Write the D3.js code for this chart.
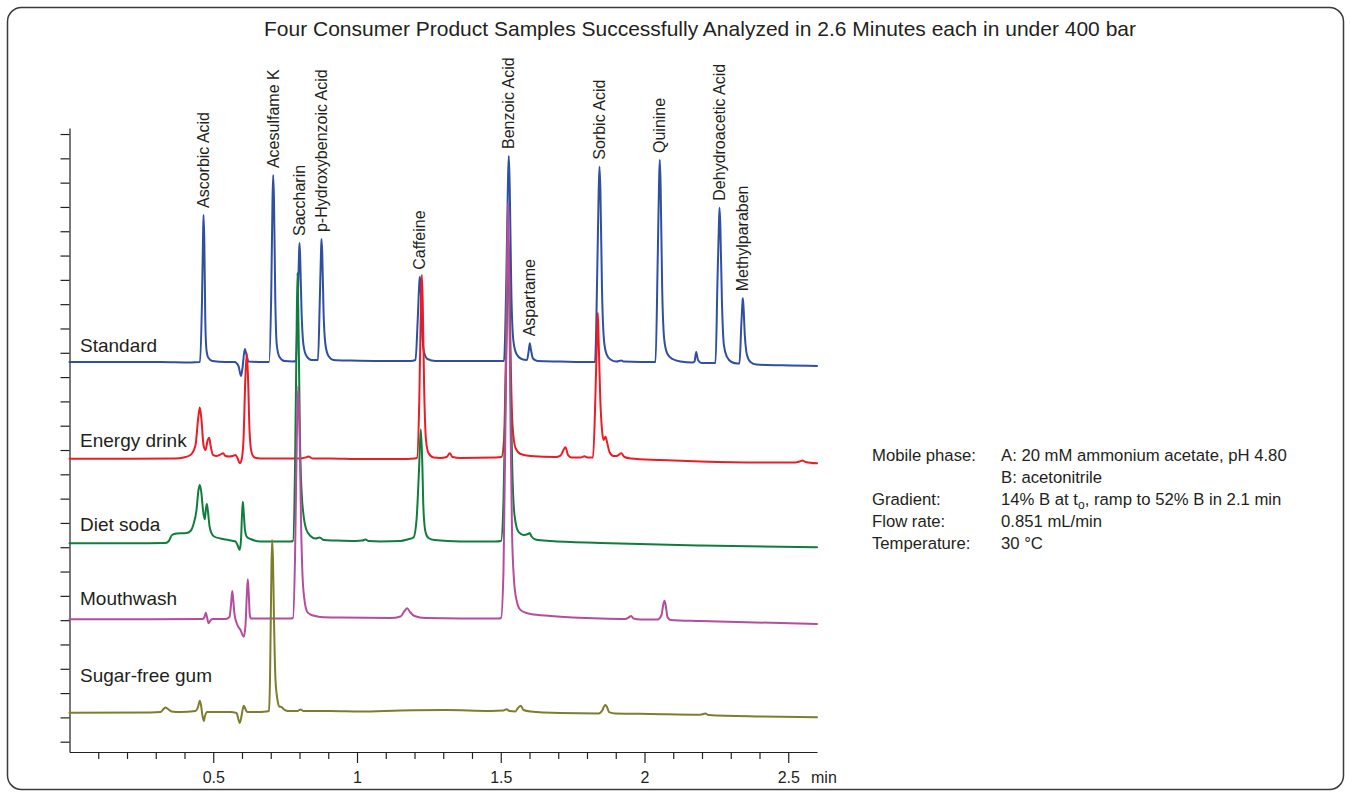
<!DOCTYPE html>
<html>
<head>
<meta charset="utf-8">
<title>Four Consumer Product Samples</title>
<script src="https://cdn.jsdelivr.net/npm/d3@7"></script>
<style>
  body { margin: 0; background: #fff; }
  svg { font-family: "Liberation Sans", Arial, sans-serif; }
  svg text { fill: #231f20; }
  .axis path, .axis line { stroke: #231f20; stroke-width: 1.2; fill: none; }
  .trace { fill: none; stroke-width: 2; stroke-linejoin: round; stroke-linecap: round; }
</style>
</head>
<body>
<svg width="1351" height="796"></svg>
<script>
// ---- data: [time (min), signal] ----
const standardTrace = [
  [0, 390.5], [0.1774, 390.5], [0.3165, 390.5], [0.4209, 390.0],
  [0.4539, 390.5], [0.4609, 454.3], [0.4643, 516.0], [0.4661, 541.7], [0.4689, 516.0], [0.4723, 433.7], [0.4765, 402.8], [0.4835, 394.6], [0.4974, 391.5], [0.5426, 390.5],
  [0.5739, 390.5], [0.5878, 386.4], [0.5965, 376.1], [0.6017, 384.3], [0.6097, 403.9], [0.6157, 397.7], [0.6226, 391.0], [0.6713, 390.5],
  [0.6939, 390.5], [0.7019, 464.6], [0.7061, 557.1], [0.7085, 582.8], [0.7113, 557.1], [0.7158, 454.3], [0.7210, 408.0], [0.7304, 395.7], [0.7478, 391.5], [0.7757, 391.0],
  [0.7878, 391.5], [0.7941, 454.3], [0.7983, 500.6], [0.8, 512.9], [0.8024, 497.5], [0.8070, 444.0], [0.8139, 408.0], [0.8243, 396.7], [0.8417, 392.6],
  [0.8643, 392.6], [0.8706, 454.3], [0.8748, 503.6], [0.8765, 517.0], [0.8790, 503.6], [0.8835, 444.0], [0.8904, 408.0], [0.9009, 396.7], [0.9183, 392.6], [0.9774, 392.0], [1.0817, 391.5], [1.1861, 391.5],
  [1.2035, 392.6], [1.2111, 433.7], [1.2163, 469.7], [1.2184, 478.2], [1.2212, 469.7], [1.2261, 423.4], [1.2330, 400.8], [1.2452, 393.6], [1.2730, 391.5], [1.4296, 391.5], [1.4991, 391.5],
  [1.5113, 391.5], [1.5193, 474.8], [1.5252, 577.7], [1.5280, 602.4], [1.5311, 572.5], [1.5367, 464.6], [1.5437, 413.1], [1.5548, 398.7], [1.5722, 393.6],
  [1.5913, 392.6], [1.5976, 402.8], [1.6010, 409.7], [1.6052, 402.8], [1.6122, 394.1], [1.6278, 391.5], [1.7078, 391.0], [1.8122, 390.5],
  [1.8278, 390.5], [1.8358, 485.1], [1.8407, 567.4], [1.8435, 591.4], [1.8466, 567.4], [1.8522, 464.6], [1.8591, 413.1], [1.8678, 398.7], [1.8817, 393.1], [1.9026, 391.0], [1.92, 392.0], [1.9270, 391.0], [1.9861, 390.5],
  [2.0383, 390.5], [2.0459, 495.4], [2.0508, 577.7], [2.0532, 598.3], [2.0560, 572.5], [2.0616, 464.6], [2.0689, 413.1], [2.08, 398.7], [2.0974, 393.6], [2.1252, 391.0], [2.1670, 390.0],
  [2.1739, 391.0], [2.1798, 400.8], [2.1861, 392.6], [2.1983, 389.5], [2.2365, 389.5],
  [2.2470, 389.5], [2.2539, 474.8], [2.2588, 531.4], [2.2609, 549.2], [2.2637, 531.4], [2.2692, 454.3], [2.2762, 408.0], [2.2870, 395.7], [2.3026, 390.5], [2.3235, 389.0],
  [2.3304, 389.0], [2.3367, 428.6], [2.3409, 452.2], [2.3419, 456.0], [2.3440, 449.1], [2.3489, 418.3], [2.3565, 397.7], [2.3687, 390.5], [2.3896, 387.9], [2.5078, 386.9], [2.6, 386.4]
];

const energyDrinkTrace = [
  [0, 291.1], [0.2122, 291.1], [0.3687, 291.3], [0.3965, 292.3], [0.4209, 294.9], [0.4383, 305.1], [0.4470, 330.9], [0.4532, 343.7], [0.4591, 330.9], [0.4661, 305.1], [0.4730, 300.0], [0.4807, 310.3], [0.4859, 312.7], [0.4904, 305.1], [0.4991, 294.9], [0.5113, 293.8], [0.5217, 294.9], [0.5346, 296.6], [0.5426, 293.8], [0.5565, 293.3], [0.5670, 293.8], [0.5774, 294.9], [0.5843, 291.8], [0.5923, 286.3], [0.5983, 289.7], [0.6052, 310.3], [0.6115, 372.0], [0.6167, 399.5], [0.6212, 372.0], [0.6261, 320.6], [0.6330, 297.9], [0.6435, 292.3], [0.6643, 291.3],
  [0.8035, 291.3], [0.8209, 292.3], [0.8313, 293.3], [0.8452, 291.3], [0.9078, 291.3], [1.0122, 290.7], [1.1513, 290.7], [1.2, 291.3],
  [1.2087, 291.8], [1.2167, 351.4], [1.2226, 454.3], [1.2254, 480.0], [1.2285, 454.3], [1.2337, 361.7], [1.24, 310.3], [1.2487, 296.9], [1.2661, 292.3], [1.2904, 291.8], [1.3113, 292.8], [1.3228, 296.6], [1.3322, 292.8], [1.36, 291.8], [1.4817, 292.3],
  [1.5026, 292.8], [1.5113, 310.3], [1.5183, 402.8], [1.5242, 495.4], [1.5263, 516.0], [1.5290, 495.4], [1.5339, 402.8], [1.5409, 325.7], [1.5513, 302.1], [1.5687, 295.9], [1.6035, 293.8],
  [1.6904, 292.8], [1.7078, 294.3], [1.7252, 302.8], [1.7339, 294.9], [1.7461, 292.3], [1.7774, 292.3], [1.7913, 293.5], [1.8017, 292.3],
  [1.8209, 292.3], [1.8289, 351.4], [1.8348, 418.3], [1.8376, 441.2], [1.84, 418.3], [1.8463, 351.4], [1.8522, 320.6], [1.8574, 310.3], [1.8643, 313.7], [1.8696, 308.2], [1.8783, 297.9], [1.8922, 293.8], [1.9026, 293.8], [1.9190, 296.6], [1.9304, 292.8], [1.9513, 291.3], [2.0557, 289.7], [2.1948, 288.2], [2.4035, 287.2], [2.5252, 287.2], [2.5391, 288.2], [2.5496, 289.2], [2.56, 287.7], [2.6, 286.3]
];

const dietSodaTrace = [
  [0, 204.0], [0.2122, 204.0], [0.3339, 204.4], [0.3454, 206.4], [0.3565, 212.6], [0.3722, 214.1], [0.4070, 214.6], [0.4209, 216.7], [0.4323, 224.6], [0.4417, 238.3], [0.4487, 258.9], [0.4532, 264.0], [0.4584, 256.8], [0.4643, 238.3], [0.4706, 228.7], [0.4741, 238.3], [0.4776, 244.5], [0.4810, 238.3], [0.4870, 221.8], [0.4939, 214.6], [0.5043, 210.8], [0.5252, 209.0], [0.5530, 207.4], [0.5774, 205.9], [0.5843, 202.3], [0.5920, 197.2], [0.5965, 207.4], [0.6000, 233.2], [0.6028, 246.8], [0.6059, 236.2], [0.6104, 217.7], [0.6174, 210.5], [0.6296, 208.5], [0.6643, 205.9], [0.7687, 205.9],
  [0.7774, 206.4], [0.7843, 279.4], [0.7896, 413.1], [0.7930, 482.4], [0.7972, 413.1], [0.8017, 310.3], [0.8070, 258.9], [0.8139, 233.2], [0.8243, 217.7], [0.8383, 211.6], [0.8557, 209.0], [0.8706, 210.0], [0.8835, 207.4], [0.9252, 206.9], [0.9948, 206.4], [1.0191, 206.9], [1.0296, 208.0], [1.0400, 206.4], [1.0817, 205.9], [1.1513, 206.4], [1.1757, 208.0],
  [1.1965, 210.0], [1.2070, 228.0], [1.2157, 279.4], [1.2219, 321.3], [1.2268, 289.7], [1.2313, 238.3], [1.2383, 215.7], [1.2487, 209.5], [1.2696, 207.4], [1.36, 205.9], [1.4817, 205.9],
  [1.5009, 206.4], [1.5096, 248.6], [1.5183, 382.3], [1.5245, 495.4], [1.5263, 516.0], [1.5287, 495.4], [1.5339, 372.0], [1.5402, 279.4], [1.5478, 233.2], [1.5617, 215.7], [1.5791, 212.6], [1.5948, 213.6], [1.6010, 214.6], [1.6070, 211.0], [1.6209, 208.0], [1.6730, 206.4], [1.8470, 204.4], [2.1948, 201.8], [2.6, 199.9]
];

const mouthwashTrace = [
  [0, 125.9], [0.2817, 125.9], [0.4626, 126.2], [0.4696, 128.3], [0.4741, 132.7], [0.4783, 128.3], [0.4835, 121.8], [0.4887, 124.1], [0.4974, 126.2], [0.5426, 126.2], [0.5565, 128.3], [0.5617, 140.6], [0.5659, 155.0], [0.5690, 147.8], [0.5739, 131.3], [0.5826, 121.1], [0.5948, 114.9], [0.6063, 108.0], [0.6122, 120.0], [0.6167, 150.9], [0.6202, 167.0], [0.6237, 150.9], [0.6271, 130.3], [0.6313, 126.7], [0.6643, 126.7], [0.7687, 126.7],
  [0.7774, 127.2], [0.7843, 186.9], [0.7906, 310.3], [0.7955, 366.1], [0.8007, 310.3], [0.8052, 228.0], [0.8104, 171.4], [0.8174, 145.7], [0.8268, 133.7], [0.8383, 130.8], [0.8557, 129.3], [0.8730, 128.3], [0.9426, 127.7], [1.1165, 127.2], [1.1513, 128.8], [1.1652, 134.4], [1.1746, 137.2], [1.1843, 133.4], [1.2, 129.3], [1.2383, 127.2], [1.36, 126.7], [1.4922, 126.7],
  [1.5009, 127.2], [1.5096, 176.6], [1.5165, 330.9], [1.5221, 495.4], [1.5252, 554.0], [1.5283, 495.4], [1.5339, 330.9], [1.5391, 217.7], [1.5461, 166.3], [1.5548, 145.7], [1.5687, 135.4], [1.6035, 131.3], [1.6730, 129.3], [1.8470, 126.7], [1.9339, 126.2], [1.9443, 127.7], [1.9537, 129.3], [1.9617, 126.7], [1.9861, 125.7], [2.0452, 125.7], [2.0591, 130.3], [2.0650, 140.6], [2.0696, 145.0], [2.0741, 139.6], [2.08, 128.3], [2.0904, 125.2], [2.1948, 124.1], [2.6, 121.1]
];

const gumTrace = [
  [0, 29.8], [0.2817, 30.0], [0.3165, 30.5], [0.3270, 33.6], [0.3339, 35.2], [0.3426, 33.6], [0.3548, 31.1], [0.3861, 30.5], [0.4383, 31.6], [0.4470, 35.7], [0.4532, 42.2], [0.4574, 37.7], [0.4626, 26.4], [0.4671, 21.3], [0.4713, 26.4], [0.4783, 30.5], [0.5078, 30.5], [0.5600, 30.5], [0.5809, 29.5], [0.5923, 19.2], [0.5983, 26.4], [0.6035, 34.7], [0.6063, 37.0], [0.6104, 34.7], [0.6174, 30.5], [0.6470, 30.5], [0.6852, 31.1],
  [0.6939, 31.6], [0.6974, 63.5], [0.7009, 145.7], [0.7043, 207.4], [0.7078, 186.9], [0.7113, 125.2], [0.7165, 63.5], [0.7235, 42.9], [0.7304, 36.0], [0.7374, 35.7], [0.7454, 33.3], [0.7583, 31.6], [0.7930, 31.6], [0.8035, 33.1], [0.8139, 31.6], [0.9078, 31.6], [1.0122, 31.1], [1.1513, 32.1], [1.3113, 32.6], [1.4643, 31.6], [1.5096, 32.1], [1.52, 33.3], [1.5304, 31.6], [1.5513, 31.1], [1.5583, 34.1], [1.5697, 37.0], [1.5791, 32.6], [1.6035, 31.1], [1.7078, 29.5], [1.84, 29.0], [1.8539, 32.6], [1.8591, 36.2], [1.8643, 37.7], [1.8696, 35.7], [1.8765, 30.5], [1.8991, 29.0], [2.0209, 28.5], [2.1948, 27.8], [2.2052, 28.5], [2.2122, 29.0], [2.2226, 27.5], [2.4035, 25.9], [2.6, 25.1]
];

const sampleNames = ["Standard", "Energy drink", "Diet soda", "Mouthwash", "Sugar-free gum"];
const sampleTraces = [standardTrace, energyDrinkTrace, dietSodaTrace, mouthwashTrace, gumTrace];

const peakNames = ["Ascorbic Acid", "Acesulfame K", "Saccharin", "p-Hydroxybenzoic Acid", "Caffeine",
  "Benzoic Acid", "Aspartame", "Sorbic Acid", "Quinine", "Dehydroacetic Acid", "Methylparaben"];
const peakTimes = [0.4661, 0.7085, 0.8, 0.8765, 1.2184, 1.528, 1.601, 1.8435, 2.0532, 2.2609, 2.3419];

const xMajorTicks = [0.5, 1, 1.5, 2, 2.5];
const xMinorTicks = [0.1, 0.2, 0.3, 0.4, 0.6, 0.7, 0.8, 0.9, 1.1, 1.2, 1.3, 1.4, 1.6, 1.7, 1.8, 1.9, 2.1, 2.2, 2.3, 2.4];
const yTicks = d3.range(0, 626, 25);

const conditionNames = ["Mobile phase:", "", "Gradient:", "Flow rate:", "Temperature:"];
const conditionValues = [
  ["A: 20 mM ammonium acetate, pH 4.80"],
  ["B: acetonitrile"],
  ["14% B at t", "o", ", ramp to 52% B in 2.1 min"],
  ["0.851 mL/min"],
  ["30 °C"]
];

// ---- layout & style ----
const colors = ["#2f4fa2", "#ed1c24", "#0f7d3c", "#b54c9e", "#7e7d2e"];
const nameLevels = [401.1, 303.4, 217.0, 140.6, 61.7];   // where each sample name sits (signal units)

const svg = d3.select("svg");

svg.append("rect")
  .attr("x", 7.5).attr("y", 7.5)
  .attr("width", 1336).attr("height", 782)
  .attr("rx", 14).attr("ry", 14)
  .attr("fill", "none").attr("stroke", "#3a3a3a").attr("stroke-width", 1.5);

svg.append("text")
  .attr("x", 700).attr("y", 35.5)
  .attr("text-anchor", "middle")
  .style("font-size", "21px")
  .text("Four Consumer Product Samples Successfully Analyzed in 2.6 Minutes each in under 400 bar");

const x = d3.scaleLinear().domain([0, 2.6]).range([69.5, 817]);
const y = d3.scaleLinear().domain([-10.6, 631.2]).range([752, 128]);

// axes
svg.append("g")
  .attr("class", "axis")
  .attr("transform", "translate(" + x(0) + ",0)")
  .call(d3.axisLeft(y).tickValues(yTicks).tickSize(9).tickSizeOuter(0).tickFormat(""));

svg.append("g")
  .attr("class", "axis")
  .attr("transform", "translate(0,752)")
  .call(d3.axisBottom(x).tickValues(xMinorTicks).tickSize(7).tickSizeOuter(0).tickFormat(""));

const xMajor = svg.append("g")
  .attr("class", "axis")
  .attr("transform", "translate(0,752)")
  .call(d3.axisBottom(x).tickValues(xMajorTicks).tickSize(11).tickSizeOuter(0)
    .tickPadding(9).tickFormat(d => String(d)));
xMajor.select(".domain").remove();
xMajor.selectAll("text").style("font-size", "16px").attr("fill", "#231f20");

svg.append("text")
  .attr("x", 811).attr("y", 783)
  .style("font-size", "16px")
  .text("min");

// traces
const line = d3.line()
  .x(d => x(d[0]))
  .y(d => y(d[1]))
  .curve(d3.curveMonotoneX);

svg.selectAll(".trace")
  .data(sampleTraces)
  .enter().append("path")
  .attr("class", "trace")
  .attr("stroke", (d, i) => colors[i])
  .attr("d", line);

// sample names
svg.selectAll(".sample-name")
  .data(sampleNames)
  .enter().append("text")
  .attr("class", "sample-name")
  .attr("x", 80)
  .attr("y", (d, i) => y(nameLevels[i]))
  .style("font-size", "19px")
  .text(d => d);

// peak labels, anchored just above the standard's apex
peakNames.forEach((name, i) => {
  const t = peakTimes[i];
  const near = standardTrace.filter(p => Math.abs(p[0] - t) < 0.01);
  const top = d3.max(near, p => p[1]);
  svg.append("text")
    .attr("transform", "translate(" + x(t) + "," + (y(top) - 7) + ") rotate(-90)")
    .attr("text-anchor", "start")
    .attr("dy", "0.35em")
    .style("font-size", "16px")
    .text(name);
});

// run conditions
const cond = svg.append("g").style("font-size", "16.7px");
conditionNames.forEach((name, i) => {
  const rowY = 461 + i * 22.1;
  cond.append("text").attr("x", 872).attr("y", rowY).text(name);
  const t = cond.append("text").attr("x", 1001).attr("y", rowY);
  conditionValues[i].forEach((part, j) => {
    const span = t.append("tspan").text(part);
    if (conditionValues[i].length > 1 && j === 1) {
      span.attr("dy", 4).style("font-size", "12px");
    } else if (conditionValues[i].length > 1 && j === 2) {
      span.attr("dy", -4);
    }
  });
});
</script>
</body>
</html>
